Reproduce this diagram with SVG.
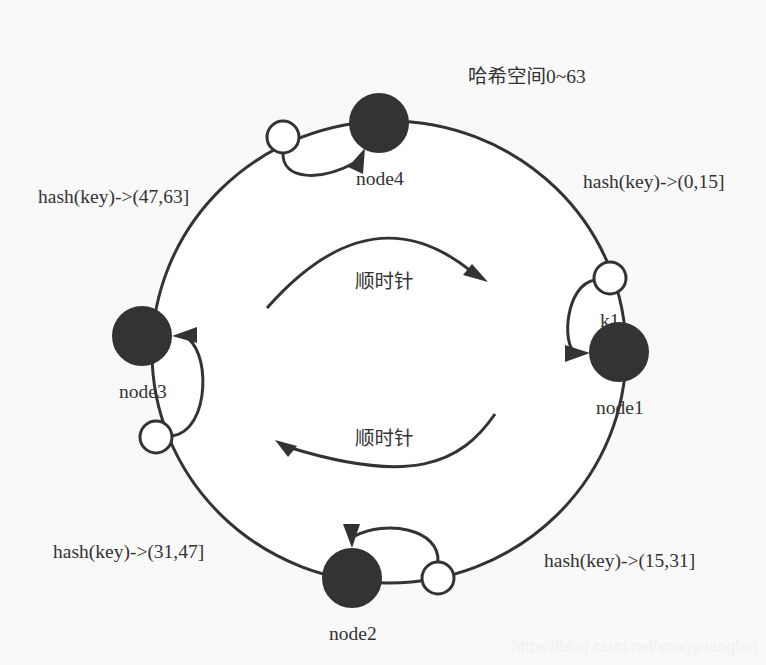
<svg xmlns="http://www.w3.org/2000/svg" width="766" height="665" viewBox="0 0 766 665">
<defs>
<style>
.ring{fill:#ffffff;stroke:#333333;stroke-width:3}
.big{fill:#333333;stroke:#333333;stroke-width:2}
.small{fill:#ffffff;stroke:#333333;stroke-width:3}
.edge{fill:none;stroke:#333333;stroke-width:3}
.head{fill:#333333;stroke:none}
.lbl{font-family:"Liberation Serif","DejaVu Serif",serif;font-size:19.5px;fill:#333333}
.cjk{font-family:"Liberation Serif","Noto Sans CJK SC",serif;font-size:19.5px;fill:#333333}
.wm{font-family:"Liberation Sans",Arial,sans-serif;font-size:16px;fill:#f0f0f0}
</style>
</defs>
<rect x="0" y="0" width="766" height="665" fill="#f9f9f9"/>
<g id="ring">
<ellipse class="ring" cx="389" cy="352" rx="237" ry="231"/>
</g>
<g id="connectors">
<path class="edge" d="M283,153 C282,180 320,182 356,162"/>
<polygon class="head" points="365,148 348,167 363,174"/>
<path class="edge" d="M595,280 C565,285 562,345 575,352"/>
<polygon class="head" points="590,353 565,345 565,362"/>
<path class="edge" d="M172,436 C212,430 210,345 184,337"/>
<polygon class="head" points="172,336 197,327 197,343"/>
<path class="edge" d="M438,562 C440,528 385,520 355,536"/>
<polygon class="head" points="352,548 343,524 360,524"/>
<path class="edge" d="M267,308 C320,248 390,205 472,272"/>
<polygon class="head" points="488,282 463,275 472,264"/>
<path class="edge" d="M495,414 C460,465 410,485 288,447"/>
<polygon class="head" points="275,440 288,457 297,446"/>
</g>
<g id="node4">
<circle class="big" cx="379" cy="123" r="29"/>
<text class="lbl" x="356" y="185">node4</text>
</g>
<g id="k4">
<circle class="small" cx="283" cy="137" r="16"/>
</g>
<g id="node1">
<circle class="big" cx="619" cy="352" r="29"/>
<text class="lbl" x="596" y="414">node1</text>
</g>
<g id="k1">
<circle class="small" cx="610" cy="278" r="16"/>
<text class="lbl" x="600" y="327">k1</text>
</g>
<g id="node3">
<circle class="big" cx="142" cy="336" r="29"/>
<text class="lbl" x="119" y="398">node3</text>
</g>
<g id="k3">
<circle class="small" cx="156" cy="437" r="16"/>
</g>
<g id="node2">
<circle class="big" cx="352" cy="578" r="29"/>
<text class="lbl" x="329" y="640">node2</text>
</g>
<g id="k2">
<circle class="small" cx="438" cy="578" r="16"/>
</g>
<g id="labels">
<text class="cjk" x="468" y="83">哈希空间0~63</text>
<text class="lbl" x="583" y="188">hash(key)-&gt;(0,15]</text>
<text class="lbl" x="38" y="203">hash(key)-&gt;(47,63]</text>
<text class="lbl" x="53" y="558">hash(key)-&gt;(31,47]</text>
<text class="lbl" x="544" y="567">hash(key)-&gt;(15,31]</text>
<text class="cjk" x="355" y="288">顺时针</text>
<text class="cjk" x="355" y="445">顺时针</text>
<text class="wm" x="512" y="652" textLength="245" lengthAdjust="spacingAndGlyphs">https://blog.csdn.net/songguangfan</text>
</g>
</svg>
